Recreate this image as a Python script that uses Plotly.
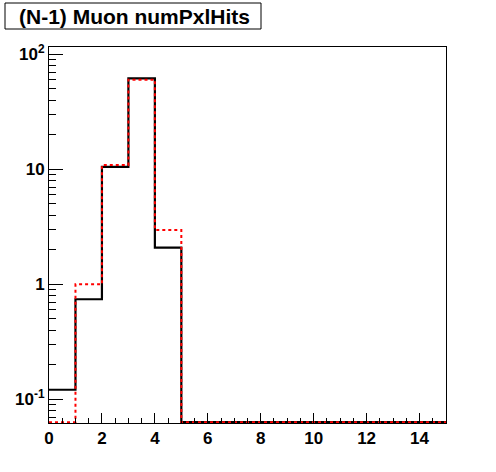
import plotly.graph_objects as go
import math

# Data
bin_edges = list(range(0, 16))
black_counts = [0.121, 0.741, 10.5, 61.8, 2.08, 0, 0, 0, 0, 0, 0, 0, 0, 0, 0]
red_counts = [0, 1.0, 10.9, 60.1, 2.97, 0, 0, 0, 0, 0, 0, 0, 0, 0, 0]
x_ticks = [0, 2, 4, 6, 8, 10, 12, 14]
y_tickvals = [0.1, 1, 10, 100]
y_ticktext = ["10<sup>-1</sup>", "1", "10", "10<sup>2</sup>"]
title_text = "(N-1) Muon numPxlHits"

ymin, ymax = 0.0622, 115.7
floor = 0.0632

def steps(counts):
    ys = [max(c, floor) for c in counts]
    return bin_edges, ys + [ys[-1]]

fig = go.Figure()
bx, by = steps(black_counts)
fig.add_trace(go.Scatter(x=bx, y=by, mode="lines", line_shape="hv",
                         line=dict(color="black", width=2.2), showlegend=False))
rx, ry = steps(red_counts)
fig.add_trace(go.Scatter(x=rx, y=ry, mode="lines", line_shape="hv",
                         line=dict(color="red", width=2, dash="3px,3px"), showlegend=False))

minor_y = [m * 10 ** e for e in range(-2, 3) for m in range(2, 10)]
minor_y = [v for v in minor_y if ymin < v < ymax]
minor_x = [i * 0.5 for i in range(0, 31) if i % 4 != 0]

font = dict(family="Liberation Sans, Arial", size=17, color="black", weight="bold")

fig.update_layout(
    width=496, height=472,
    margin=dict(l=49, r=50, t=47, b=49, autoexpand=False),
    paper_bgcolor="white", plot_bgcolor="white",
    xaxis=dict(range=[0, 15], tickvals=x_ticks, ticks="inside", ticklen=10,
               tickwidth=1, tickcolor="black", showline=True, linecolor="black",
               linewidth=1, mirror=True, showgrid=False, zeroline=False,
               tickfont=font,
               minor=dict(tickvals=minor_x, ticks="inside", ticklen=5,
                          tickcolor="black", tickwidth=1, showgrid=False)),
    yaxis=dict(type="log", range=[math.log10(ymin), math.log10(ymax)],
               tickvals=y_tickvals, ticktext=y_ticktext, ticks="inside",
               ticklen=14, tickwidth=1, tickcolor="black", showline=True,
               linecolor="black", linewidth=1, mirror=True, showgrid=False,
               zeroline=False, tickfont=font,
               minor=dict(tickvals=minor_y, ticks="inside", ticklen=7,
                          tickcolor="black", tickwidth=1, showgrid=False)),
    shapes=[dict(type="rect", xref="paper", yref="paper",
                 x0=(5 - 49) / 397, x1=(261 - 49) / 397,
                 y0=(423 - 29) / 376, y1=(423 - 3) / 376,
                 line=dict(color="black", width=1), fillcolor="white")],
    annotations=[dict(text=title_text, xref="paper", yref="paper",
                      x=(134 - 49) / 397, y=(423 - 16) / 376,
                      xanchor="center", yanchor="middle", showarrow=False,
                      font=dict(family="Liberation Sans, Arial", size=21,
                                color="black", weight="bold"))],
)

fig.write_html("out.html", config={"displayModeBar": False},
               post_script="document.body.style.margin='0';document.body.style.overflow='hidden';")
